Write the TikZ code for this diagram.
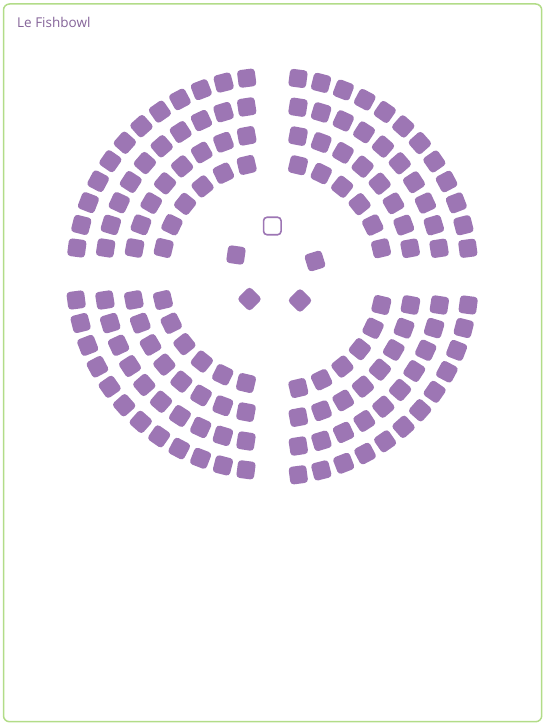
\documentclass[tikz,border=0pt]{standalone}
\usepackage{fontspec}
\setmainfont{Open Sans}
\usetikzlibrary{positioning}
\definecolor{seatpurple}{RGB}{157,118,180}
\definecolor{framegreen}{RGB}{178,220,136}

\begin{document}
\begin{tikzpicture}[
	  x=1pt, y=1pt,
	  seat/.style={rectangle, rounded corners=3.5pt, minimum size=17.8pt, inner sep=0pt, fill=seatpurple},
	  freeseat/.style={rectangle, rounded corners=3.5pt, minimum size=17.5pt, inner sep=0pt, draw=seatpurple, line width=1.6pt, fill=white},
	  frame/.style={draw=framegreen, line width=1.5pt, rounded corners=6pt},
	  title/.style={anchor=base west, inner sep=0pt, text=seatpurple!85!black, font=\fontsize{13.5}{16}\selectfont}
	]

	\useasboundingbox (0,0) rectangle (545,725);
	\draw [frame] (3.5,3.3) rectangle (541.7,721);
	\node (title) [title] at (17,697.5) {Le Fishbowl};

	% four quarters of rows around the bowl
	\foreach \q/\cx/\cy/\a in {tr/272.5/451.2/0, tl/272.2/451.5/90, bl/271.5/450.5/180, br/272.8/445.5/270}{
	  \foreach \r/\rad/\n in {1/197/12, 2/168.5/10, 3/140/8, 4/111.5/6}{
	    \pgfmathsetmacro{\off}{asin(25.5/\rad)}
	    \pgfmathsetmacro{\stp}{(90-2*\off)/(\n-1)}
	    \foreach \s in {1,...,\n}{
	      \pgfmathsetmacro{\ang}{\a+\off+(\s-1)*\stp}
	      \node (\q-\r-\s) [seat, rotate=\ang] at ([shift={(\ang:\rad)}]\cx,\cy) {};
	    }
	  }
	}

	% the fishbowl in the middle
	\node (free) [freeseat] at (272.3,499) {};
	\node (fish1) [seat, rotate=-8] at (236,470) {};
	\node (fish2) [seat, rotate=17] at (315,464) {};
	\node (fish3) [seat, rotate=45] at (249.5,426) {};
	\node (fish4) [seat, rotate=45] at (300,424.5) {};

\end{tikzpicture}
\end{document}
